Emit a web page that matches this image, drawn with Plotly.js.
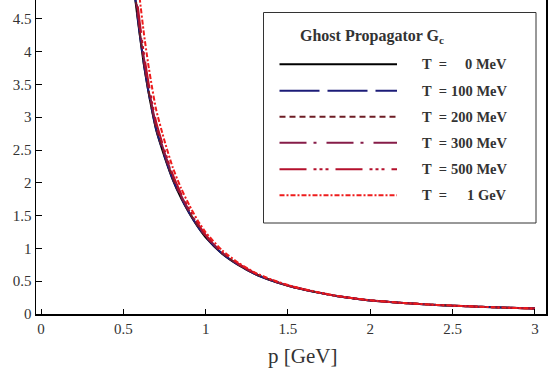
<!DOCTYPE html>
<html>
<head>
<meta charset="utf-8">
<script src="https://cdn.plot.ly/plotly-3.0.1.min.js"></script>
<style>html,body{margin:0;padding:0;background:#fff;}#chart{width:549px;height:379px;}</style>
</head>
<body>
<div id="chart"></div>
<script>
// momentum p [GeV]
var p = [0.55,0.57,0.6,0.625,0.65,0.675,0.7,0.75,0.8,0.85,0.9,0.95,1.0,1.1,1.2,1.3,1.4,1.5,1.6,1.7,1.8,1.9,2.0,2.2,2.4,2.6,2.8,3.0];
// ghost propagator G_c for each temperature
var G_0MeV   = [5.30,4.85,4.25,3.80,3.42,3.09,2.80,2.40,2.05,1.77,1.54,1.34,1.17,0.920,0.745,0.610,0.510,0.430,0.370,0.318,0.272,0.238,0.207,0.168,0.139,0.117,0.098,0.083];
var G_100MeV = [5.32,4.87,4.27,3.81,3.43,3.10,2.81,2.41,2.056,1.775,1.545,1.344,1.173,0.922,0.746,0.610,0.510,0.430,0.370,0.318,0.272,0.238,0.207,0.168,0.139,0.117,0.098,0.083];
var G_200MeV = [5.36,4.91,4.30,3.845,3.46,3.125,2.835,2.43,2.075,1.79,1.557,1.355,1.182,0.928,0.750,0.614,0.513,0.432,0.371,0.319,0.273,0.238,0.207,0.168,0.139,0.117,0.098,0.083];
var G_300MeV = [5.43,4.97,4.36,3.90,3.505,3.165,2.87,2.46,2.10,1.81,1.575,1.37,1.195,0.938,0.758,0.619,0.516,0.434,0.372,0.319,0.273,0.238,0.207,0.168,0.139,0.117,0.098,0.083];
var G_500MeV = [5.54,5.07,4.44,3.97,3.57,3.225,2.92,2.50,2.13,1.84,1.60,1.39,1.205,0.945,0.763,0.622,0.518,0.435,0.373,0.320,0.273,0.239,0.208,0.168,0.139,0.117,0.098,0.083];
var G_1GeV   = [5.99,5.48,4.80,4.275,3.83,3.445,3.108,2.64,2.235,1.92,1.663,1.434,1.246,0.971,0.779,0.631,0.525,0.441,0.377,0.323,0.275,0.240,0.209,0.169,0.139,0.117,0.098,0.083];

var seriesValues = [G_0MeV, G_100MeV, G_200MeV, G_300MeV, G_500MeV, G_1GeV];
var tempLabels = ['0 MeV','100 MeV','200 MeV','300 MeV','500 MeV','1 GeV'];
var colors = ['#000000','#1c1c78','#6e1c24','#861c48','#b4102c','#ee1c1c'];
var dashes = ['solid','40px,8px','6px,4px','27px,7px,3px,10px','27px,7px,3px,3px,3px,3px,3px,7px','5px,2px,2px,2px'];
var legendTitle = 'Ghost Propagator G<sub>c</sub>';
var xTitle = 'p [GeV]';
var xTickVals = [0,0.5,1,1.5,2,2.5,3];
var xTickText = ['0','0.5','1','1.5','2','2.5','3'];
var yTickVals = [0,0.5,1,1.5,2,2.5,3,3.5,4,4.5];
var yTickText = ['0','0.5','1','1.5','2','2.5','3','3.5','4','4.5'];

var SERIF = "'Liberation Serif', 'Times New Roman', Times, serif";

var traces = seriesValues.map(function(v,i){
  return {x:p, y:v, type:'scatter', mode:'lines', name:'T = '+tempLabels[i],
    line:{color:colors[i], width:2, dash:dashes[i], shape:'spline', smoothing:0.6},
    showlegend:false, hoverinfo:'skip'};
});

// pixel -> paper helpers for the hand-made legend
var L=36, T=0, W=510, H=314;
function px(x){return (x-L)/W;}
function py(y){return (T+H-y)/H;}

var shapes = [{type:'rect', xref:'paper', yref:'paper', x0:px(263.5), x1:px(536), y0:py(223), y1:py(12.5),
  line:{color:'#333', width:1}, fillcolor:'#fff', layer:'above'}];
var annotations = [{xref:'paper', yref:'paper', x:px(298), y:py(36.5), xanchor:'left', yanchor:'middle',
  text:'<b>'+legendTitle+'</b>', showarrow:false, font:{family:SERIF, size:16, color:'#333'}},
  {xref:'paper', yref:'paper', x:px(302), y:py(356), xanchor:'center', yanchor:'middle',
  text:xTitle, showarrow:false, font:{family:SERIF, size:21, color:'#333'}}];
var rowsY = [64.3, 90.7, 116.7, 142.7, 169.3, 195.3];
tempLabels.forEach(function(lab,i){
  shapes.push({type:'line', xref:'paper', yref:'paper', x0:px(279.5), x1:px(397), y0:py(rowsY[i]), y1:py(rowsY[i]),
    line:{color:colors[i], width:2, dash:dashes[i]}, layer:'above'});
  annotations.push({xref:'paper', yref:'paper', x:px(420), y:py(rowsY[i]), xanchor:'left', yanchor:'middle',
    text:'<b>T  =</b>', showarrow:false, font:{family:SERIF, size:14.5, color:'#333'}});
  annotations.push({xref:'paper', yref:'paper', x:px(509), y:py(rowsY[i]), xanchor:'right', yanchor:'middle',
    text:'<b>'+lab+'</b>', showarrow:false, font:{family:SERIF, size:14.5, color:'#333'}});
});

var layout = {
  width:549, height:379,
  margin:{l:L, r:3, t:T, b:65, pad:0},
  paper_bgcolor:'#fff', plot_bgcolor:'#fff',
  font:{family:SERIF, color:'#333'},
  xaxis:{range:[-0.0304,3.067], tickvals:xTickVals, ticktext:xTickText, ticks:'inside', ticklen:5, tickwidth:1,
    tickcolor:'#000', showline:true, linecolor:'#000', linewidth:1.5, showgrid:false, zeroline:false,
    tickfont:{family:SERIF, size:15, color:'#333'}},
  yaxis:{range:[0,4.787], tickvals:yTickVals, ticktext:yTickText, ticks:'inside', ticklen:6, tickwidth:1,
    tickcolor:'#000', showline:true, linecolor:'#000', linewidth:1.5, mirror:true, showgrid:false, zeroline:false,
    tickfont:{family:SERIF, size:15, color:'#333'}},
  shapes:shapes, annotations:annotations, showlegend:false
};
Plotly.newPlot('chart', traces, layout, {displayModeBar:false, staticPlot:true});
</script>
</body>
</html>
